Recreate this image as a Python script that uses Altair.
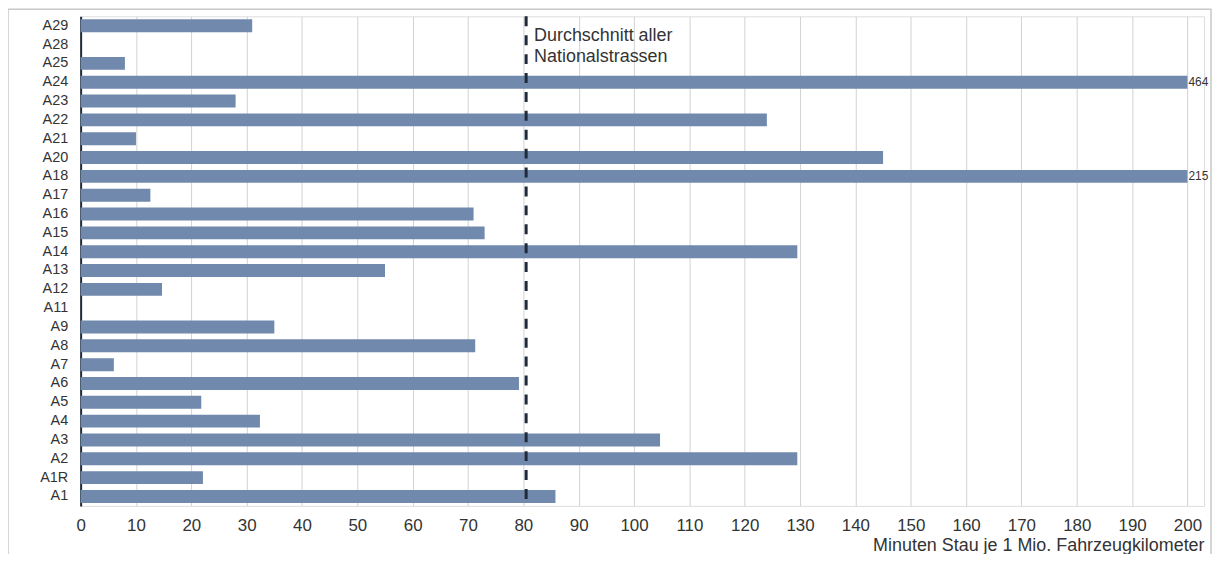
import altair as alt
import pandas as pd

roads = ["A29", "A28", "A25", "A24", "A23", "A22", "A21", "A20", "A18", "A17",
         "A16", "A15", "A14", "A13", "A12", "A11", "A9", "A8", "A7", "A6",
         "A5", "A4", "A3", "A2", "A1R", "A1"]
minutes = [31, 0, 8, 464, 28, 124, 10, 145, 215, 12.6,
           71, 73, 129.5, 55, 14.7, 0, 35, 71.3, 6, 79.2,
           21.8, 32.4, 104.7, 129.5, 22.1, 85.8]
average = [80.5]
x_ticks = list(range(0, 201, 10))
axis_max = 200

df = pd.DataFrame({"road": roads, "minutes": minutes})
avg_df = pd.DataFrame({"avg": average, "label": ["Durchschnitt aller\nNationalstrassen"]})

FONT = "Liberation Sans"
TXT = "#333333"
x_scale = alt.Scale(domain=[0, 203], nice=False)

base = alt.Chart(df).transform_calculate(shown=f"min(datum.minutes, {axis_max})")

bars = base.mark_bar(color="#7189ad", size=13).encode(
    y=alt.Y("road:N", sort=roads,
            axis=alt.Axis(title=None, labelFontSize=14.5, labelColor=TXT,
                          labelFont=FONT, domainColor="#1e2a38", domainWidth=2,
                          ticks=False, labelPadding=13, grid=False)),
    x=alt.X("shown:Q", scale=x_scale,
            axis=alt.Axis(values=x_ticks, title="Minuten Stau je 1 Mio. Fahrzeugkilometer",
                          titleAnchor="end", titleAlign="right", titleFontSize=18,
                          titleFontWeight="normal", titleColor=TXT, titleFont=FONT,
                          titlePadding=3, labelFontSize=17, labelColor=TXT,
                          labelFont=FONT, labelPadding=12, labelFlush=False,
                          domain=False, ticks=False,
                          grid=True, gridColor="#d2d2d2", gridWidth=1)),
)

value_labels = base.transform_filter(f"datum.minutes > {axis_max}").mark_text(
    align="left", baseline="middle", dx=1, fontSize=12, color=TXT, font=FONT
).encode(
    y=alt.Y("road:N", sort=roads),
    x=alt.X("shown:Q", scale=x_scale),
    text=alt.Text("minutes:Q"),
)

avg_rule = alt.Chart(avg_df).mark_rule(
    strokeDash=[10, 9], strokeWidth=3, color="#1f2b3a"
).encode(x=alt.X("avg:Q", scale=x_scale))

avg_text = alt.Chart(avg_df).mark_text(
    align="left", baseline="top", dx=8, fontSize=18, lineHeight=21,
    lineBreak="\n", color=TXT, font=FONT
).encode(x=alt.X("avg:Q", scale=x_scale), y=alt.value(11), text="label:N")

frame = alt.Chart(pd.DataFrame({"a": [0]})).mark_rect(
    fill="transparent", stroke="#c8c8c8", strokeWidth=1.5
).encode(x=alt.value(-73), x2=alt.value(1136), y=alt.value(-7), y2=alt.value(545))

chart = alt.layer(frame, bars, avg_rule, avg_text, value_labels).properties(
    width=1129, height=492,
    autosize=alt.AutoSizeParams(type="none"),
    padding={"left": 73, "top": 7, "right": 10, "bottom": 47},
).configure_view(stroke=None).configure(background="white")

chart.save("out.html", embed_options={"renderer": "svg", "actions": False})
